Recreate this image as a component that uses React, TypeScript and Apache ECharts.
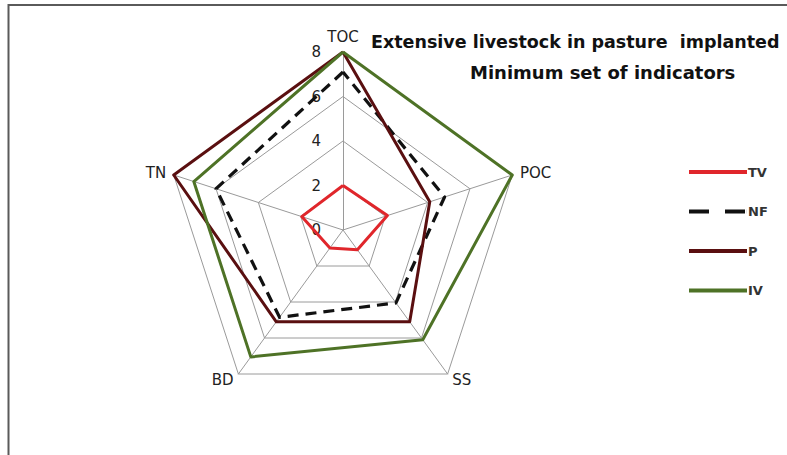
import React, { useEffect, useRef } from "react";
import * as echarts from "echarts";

const indicators = ["TOC", "TN", "BD", "SS", "POC"];
const axisMax = 8;
const tickInterval = 2;
const seriesNames = ["TV", "NF", "P", "IV"];
const tvValues = [2.0, 1.95, 1.0, 1.1, 2.1];
const nfValues = [7.1, 6.0, 4.85, 4.05, 4.8];
const pValues = [8.0, 8.0, 5.1, 5.1, 4.1];
const ivValues = [8.0, 7.05, 7.05, 6.1, 8.0];
const titleLine1 = "Extensive livestock in pasture  implanted";
const titleLine2 = "Minimum set of indicators";

const colors = ["#e0262b", "#111111", "#5a0f10", "#4e7226"];

export default function App() {
  const ref = useRef<HTMLDivElement>(null);
  useEffect(() => {
    if (!ref.current) return;
    const chart = echarts.init(ref.current, undefined, { renderer: "svg" });
    const values = [tvValues, nfValues, pValues, ivValues];
    const font = "DejaVu Sans";
    const solidIcon = "path://M0,0H58V4H0Z";
    const dashIcon = "path://M0,0H20V4H0Z M36,0H56V4H36Z M57.9,0H58V4H57.9Z";
    chart.setOption({
      animation: false,
      backgroundColor: "#ffffff",
      title: [
        {
          text: titleLine1,
          left: 371,
          top: 31,
          padding: 0,
          textStyle: { fontFamily: font, fontWeight: "bold", fontSize: 17.5, lineHeight: 22, color: "#111" },
        },
        {
          text: titleLine2,
          left: 470,
          top: 61,
          padding: 0,
          textStyle: { fontFamily: font, fontWeight: "bold", fontSize: 18, lineHeight: 22, color: "#111" },
        },
      ],
      legend: {
        orient: "vertical",
        left: 689,
        top: 164,
        itemWidth: 58,
        itemHeight: 4,
        itemGap: 23.5,
        padding: 0,
        data: seriesNames.map((n, i) => ({ name: n, icon: i === 1 ? dashIcon : solidIcon })),
        itemStyle: { borderWidth: 0 },
        textStyle: { fontFamily: font, fontSize: 13, fontWeight: "bold", color: "#333", lineHeight: 16, padding: [0, 0, 0, -4] },
      },
      radar: {
        center: [343, 230],
        radius: 178,
        startAngle: 90,
        shape: "polygon",
        splitNumber: 4,
        nameGap: 8,
        indicator: indicators.map((n) => ({ name: n, min: 0, max: axisMax })),
        axisName: { color: "#222", fontFamily: font, fontSize: 15 },
        splitLine: { lineStyle: { color: "#9a9a9a", width: 1 } },
        axisLine: { lineStyle: { color: "#9a9a9a", width: 1 } },
        splitArea: { show: false },
        axisTick: { show: false },
        axisLabel: { show: false },
      },
      polar: { center: [343, 230], radius: 178 },
      angleAxis: { show: false, startAngle: 90, min: 0, max: 360 },
      radiusAxis: {
        min: 0,
        max: axisMax,
        interval: tickInterval,
        axisLine: { show: false },
        axisTick: { show: false },
        splitLine: { show: false },
        axisLabel: { show: true, color: "#222", fontFamily: font, fontSize: 15, margin: 22 },
      },
      graphic: [
        {
          type: "rect",
          shape: { x: 8.5, y: 5, width: 900, height: 600 },
          style: { fill: "none", stroke: "#5a5a5a", lineWidth: 2 },
          silent: true,
        },
      ],
      series: [
        {
          type: "radar",
          symbol: "none",
          data: seriesNames.map((n, i) => ({
            name: n,
            value: values[i],
            itemStyle: { color: colors[i] },
            lineStyle: {
              color: colors[i],
              width: i === 1 ? 3.2 : 3,
              type: i === 1 ? [11, 7] : "solid",
            },
          })),
        },
      ],
    });
    return () => chart.dispose();
  }, []);
  return (
    <div
      ref={ref}
      style={{ position: "absolute", left: 0, top: 0, width: 787, height: 455 }}
    />
  );
}
